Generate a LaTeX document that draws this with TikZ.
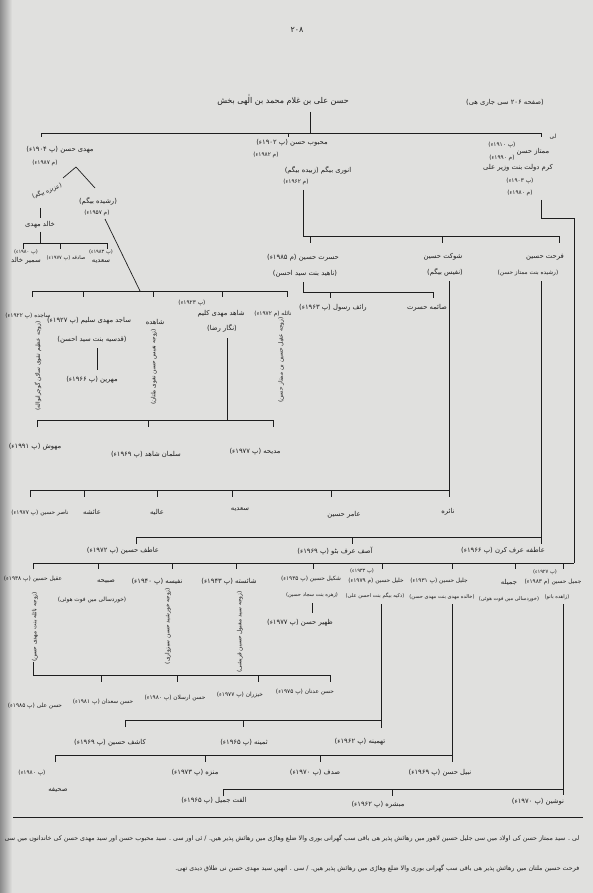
\documentclass[tikz,border=0pt]{standalone}
\usepackage{fontspec}
\newfontfamily\urdufont[Script=Arabic]{DejaVu Sans}
\TeXXeTstate=1
\newcommand{\urt}[1]{\beginR #1\endR}
\definecolor{paper}{RGB}{224,224,222}
\definecolor{ink}{RGB}{30,30,30}
\tikzset{
  lbl/.style={font=\urdufont\fontsize{6.8}{8}\selectfont, text=ink, inner sep=0.5pt},
  sm/.style={lbl, font=\urdufont\fontsize{5.8}{7}\selectfont},
  xs/.style={lbl, font=\urdufont\fontsize{5.1}{6}\selectfont},
  big/.style={lbl, font=\urdufont\fontsize{8}{9.5}\selectfont},
  note/.style={lbl, font=\urdufont\fontsize{6.3}{7.5}\selectfont},
  vert/.style={sm, rotate=90},
  link/.style={draw=ink, line width=0.7pt},
}
\begin{document}
\begin{tikzpicture}[x=1pt,y=-1pt]
% paper
\fill[paper] (0,0) rectangle (593,893);
\shade[left color=black!45, right color=paper] (0,0) rectangle (12,893);
\useasboundingbox (0,0) rectangle (593,893);

% ---------- heading ----------
\node[big] (page) at (297,30) {\urt{۲۰۸}};
\node[big] (root) at (283,100) {\urt{حسن علی بن غلام محمد بن الٰهی بخش}};
\node[lbl] (cont) at (505,103) {\urt{(صفحه ۲۰۶ سی جاری هی)}};
\coordinate (rootdrop) at (310,133);
\draw[link] (310,112) -- (rootdrop);
\draw[link] (41,137) -- (41,133) -- (541,133) -- (541,137);
\draw[link] (288,133) -- (288,137);

% ---------- Mahdi Hasan ----------
\node[lbl] (mahdi) at (60,150) {\urt{مهدی حسن (پ ۱۹۰۴ء)}};
\node[sm] (mahdiD) at (45,163) {\urt{(م ۱۹۸۷ء)}};
\coordinate (vtop) at (76,167);
\draw[link] (63,178) -- (vtop) -- (95,188);
\node[sm, rotate=22] (aziza) at (47,191) {\urt{(عزیزه بیگم)}};
\node[lbl] (rashida) at (98,201) {\urt{(رشیده بیگم)}};
\node[sm] (rashidaD) at (97,213) {\urt{(م ۱۹۵۷ء)}};

\draw[link] (40,208) -- (40,218);
\node[lbl] (khalid) at (40,225) {\urt{خالد مهدی}};
\draw[link] (40,232) -- (40,243);
\draw[link] (23,249) -- (23,243) -- (107,243) -- (107,249);
\draw[link] (60,243) -- (60,249);
\node[xs] (k1d) at (26,252) {\urt{(پ ۱۹۸۰ء)}};
\node[lbl] (k1) at (26,261) {\urt{سمیر خالد}};
\node[xs] (k2) at (66,258) {\urt{صادقه (پ ۱۹۷۷ء)}};
\node[xs] (k3d) at (101,252) {\urt{(پ ۱۹۸۳ء)}};
\node[lbl] (k3) at (101,262) {\urt{سعدیه}};

\draw[link] (105,219) -- (140,291);
\draw[link] (32,297) -- (32,291) -- (287,291) -- (287,297);
\foreach \x in {83,153,222} \draw[link] (\x,291) -- (\x,297);

\node[sm] (m1) at (28,316) {\urt{ساجده (پ ۱۹۲۲ء)}};
\node[vert] (m1w) at (38,366) {\urt{(زوجه عظیم تقوی ساکن گوجرانواله)}};
\node[lbl] (m2) at (89,321) {\urt{ساجد مهدی سلیم (پ ۱۹۲۷ء)}};
\node[lbl] (m2w) at (92,340) {\urt{(قدسیه بنت سید احسن)}};
\draw[link] (97,348) -- (97,370);
\node[lbl] (m2c) at (92,380) {\urt{مهرین (پ ۱۹۶۶ء)}};
\node[lbl] (m3) at (155,322) {\urt{شاهده}};
\node[vert] (m3w) at (154,367) {\urt{(زوجه نفیس حسن نقوی ملتان)}};
\node[sm] (m4d) at (192,303) {\urt{(پ ۱۹۲۳ء)}};
\node[lbl] (m4) at (221,314) {\urt{شاهد مهدی کلیم}};
\node[lbl] (m4w) at (222,328) {\urt{(نگار رضا)}};
\draw[link] (227,338) -- (227,420);
\node[sm] (m5) at (273,314) {\urt{نائله (م ۱۹۷۲ء)}};
\node[vert] (m5w) at (281,360) {\urt{(زوجه عقیل حسین بن ممتاز حسن)}};

\draw[link] (37,427) -- (37,420) -- (273,420) -- (273,427);
\draw[link] (148,420) -- (148,427);
\node[lbl] (s1) at (35,447) {\urt{مهوش (پ ۱۹۹۱ء)}};
\node[lbl] (s2) at (146,455) {\urt{سلمان شاهد (پ ۱۹۶۹ء)}};
\node[lbl] (s3) at (255,452) {\urt{مدیحه (پ ۱۹۷۷ء)}};

% ---------- Mahboob Hasan ----------
\node[lbl] (mahboob) at (292,143) {\urt{محبوب حسن (پ ۱۹۰۲ء)}};
\node[sm] (mahboobD) at (266,155) {\urt{(م ۱۹۸۲ء)}};
\node[lbl] (anwari) at (318,170) {\urt{انوری بیگم (زبیده بیگم)}};
\node[sm] (anwariD) at (296,182) {\urt{(م ۱۹۶۲ء)}};
\draw[link] (303,190) -- (303,236) -- (559,236) -- (559,243);
\draw[link] (310,236) -- (310,243);
\draw[link] (442,236) -- (442,243);

\node[lbl] (hasrat) at (303,258) {\urt{حسرت حسین (م ۱۹۸۵ء)}};
\node[lbl] (hasratW) at (305,274) {\urt{(ناهید بنت سید احسن)}};
\draw[link] (303,282) -- (303,292) -- (433,292) -- (433,298);
\draw[link] (330,292) -- (330,298);
\node[lbl] (h1) at (333,308) {\urt{رائف رسول (پ ۱۹۶۳ء)}};
\node[lbl] (h2) at (427,308) {\urt{صائمه حسرت}};

\node[lbl] (shaukat) at (443,257) {\urt{شوکت حسین}};
\node[lbl] (shaukatW) at (445,272) {\urt{(نفیس بیگم)}};
\draw[link] (449,281) -- (449,497);
\draw[link] (30,497) -- (30,490) -- (449,490);
\foreach \x in {84,157,232,331} \draw[link] (\x,490) -- (\x,497);
\node[sm] (n1) at (40,513) {\urt{ناصر حسین (پ ۱۹۷۷ء)}};
\node[lbl] (n2) at (92,512) {\urt{عائشه}};
\node[lbl] (n3) at (157,512) {\urt{عالیه}};
\node[lbl] (n4) at (240,510) {\urt{سعدیه}};
\node[lbl] (n5) at (344,515) {\urt{عامر حسین}};
\node[lbl] (n6) at (448,512) {\urt{نائره}};

\node[lbl] (farhat) at (545,257) {\urt{فرحت حسین}};
\node[sm] (farhatW) at (528,273) {\urt{(رشیده بنت ممتاز حسن)}};
\draw[link] (541,281) -- (541,544);
\draw[link] (136,544) -- (136,537) -- (541,537);
\draw[link] (352,537) -- (352,544);
\node[lbl] (f1) at (123,551) {\urt{عاطف حسین (پ ۱۹۷۲ء)}};
\node[lbl] (f2) at (335,551) {\urt{آصف عرف بٹو (پ ۱۹۶۹ء)}};
\node[lbl] (f3) at (503,551) {\urt{عاطفه عرف کرن (پ ۱۹۶۶ء)}};

% ---------- Mumtaz Hasan ----------
\node[sm] (mark1) at (553,137) {\urt{لی}};
\node[lbl] (mumtaz) at (533,152) {\urt{ممتاز حسن}};
\node[sm] (mumtazB) at (502,145) {\urt{(پ ۱۹۱۰ء)}};
\node[sm] (mumtazD) at (502,158) {\urt{(م ۱۹۹۰ء)}};
\node[lbl] (karam) at (518,168) {\urt{کرم دولت بنت وزیر علی}};
\node[sm] (karamB) at (520,181) {\urt{(پ ۱۹۰۳ء)}};
\node[sm] (karamD) at (520,193) {\urt{(م ۱۹۸۰ء)}};
\draw[link] (541,200) -- (541,218) -- (574,218) -- (574,563);
\draw[link] (33,569) -- (33,563) -- (574,563);
\foreach \x in {98,172,236,313,382,452,515,563} \draw[link] (\x,563) -- (\x,569);

\node[sm] (c1) at (33,579) {\urt{عقیل حسین (پ ۱۹۳۸ء)}};
\node[vert] (c1w) at (35,627) {\urt{(زوجه نائله بنت مهدی حسن)}};
\node[lbl] (c2) at (106,582) {\urt{صبیحه}};
\node[sm] (c2n) at (92,600) {\urt{(خوردسالی میں فوت هوئی)}};
\node[lbl] (c3) at (157,582) {\urt{نفیسه (پ ۱۹۴۰ء)}};
\node[vert] (c3w) at (168,626) {\urt{(زوجه خورشید حسن سبزواری)}};
\node[lbl] (c4) at (229,582) {\urt{شائسته (پ ۱۹۴۳ء)}};
\node[vert] (c4w) at (240,632) {\urt{(زوجه سید مقبول حسین قریشی)}};
\node[sm] (c5) at (311,579) {\urt{شکیل حسین (پ ۱۹۳۵ء)}};
\node[xs] (c5w) at (312,595) {\urt{(زهره بنت سجاد حسین)}};
\draw[link] (312,603) -- (312,613);
\node[lbl] (c5c) at (300,623) {\urt{ظهیر حسن (پ ۱۹۷۷ء)}};
\node[xs] (c6b) at (362,571) {\urt{(پ ۱۹۳۳ء)}};
\node[sm] (c6) at (376,581) {\urt{خلیل حسین (م ۱۹۷۹ء)}};
\node[xs] (c6w) at (375,596) {\urt{(ذکیه بیگم بنت احسن علی)}};
\node[sm] (c7) at (439,581) {\urt{جلیل حسین (پ ۱۹۳۱ء)}};
\node[xs] (c7w) at (442,597) {\urt{(خالده مهدی بنت مهدی حسن)}};
\node[lbl] (c8) at (509,582) {\urt{جمیله}};
\node[xs] (c8n) at (509,599) {\urt{(خوردسالی میں فوت هوئی)}};
\node[xs] (c9b) at (545,572) {\urt{(پ ۱۹۲۷ء)}};
\node[sm] (c9) at (553,582) {\urt{جمیل حسین (م ۱۹۸۳ء)}};
\node[xs] (c9w) at (557,597) {\urt{(زاهده بانو)}};

% Aqeel's children
\draw[link] (33,662) -- (33,675) -- (330,675) -- (330,682);
\foreach \x in {101,177,258} \draw[link] (\x,675) -- (\x,682);
\node[sm] (a1) at (35,706) {\urt{حسن علی (پ ۱۹۸۵ء)}};
\node[sm] (a2) at (103,702) {\urt{حسن سعدان (پ ۱۹۸۱ء)}};
\node[sm] (a3) at (175,698) {\urt{حسن ارسلان (پ ۱۹۸۰ء)}};
\node[sm] (a4) at (240,695) {\urt{خیزران (پ ۱۹۷۷ء)}};
\node[sm] (a5) at (305,692) {\urt{حسن عدنان (پ ۱۹۷۵ء)}};

% Khalil's children
\draw[link] (381,604) -- (381,728);
\draw[link] (125,727) -- (125,720) -- (381,720);
\draw[link] (243,720) -- (243,727);
\node[lbl] (k6a) at (110,743) {\urt{کاشف حسین (پ ۱۹۶۹ء)}};
\node[lbl] (k6b) at (244,743) {\urt{ثمینه (پ ۱۹۶۵ء)}};
\node[lbl] (k6c) at (360,742) {\urt{تهمینه (پ ۱۹۶۲ء)}};

% Jalil's children
\draw[link] (452,604) -- (452,762);
\draw[link] (55,762) -- (55,755) -- (452,755);
\foreach \x in {205,320} \draw[link] (\x,755) -- (\x,762);
\node[sm] (j1d) at (32,773) {\urt{(پ ۱۹۸۰ء)}};
\node[lbl] (j1) at (58,790) {\urt{صحیفه}};
\node[lbl] (j2) at (195,773) {\urt{منزه (پ ۱۹۷۳ء)}};
\node[lbl] (j3) at (315,773) {\urt{صدف (پ ۱۹۷۰ء)}};
\node[lbl] (j4) at (440,773) {\urt{نبیل حسن (پ ۱۹۶۹ء)}};

% Jamil's children
\draw[link] (563,604) -- (563,795);
\draw[link] (223,796) -- (223,789) -- (563,789);
\draw[link] (392,789) -- (392,796);
\node[lbl] (q1) at (214,801) {\urt{الفت جمیل (پ ۱۹۶۵ء)}};
\node[lbl] (q2) at (378,805) {\urt{مبشره (پ ۱۹۶۲ء)}};
\node[lbl] (q3) at (538,802) {\urt{نوشین (پ ۱۹۷۰ء)}};

% ---------- footnotes ----------
\draw[link] (13,817) -- (583,817);
\node[note, anchor=east] (fn1) at (580,838) {\urt{لی . سید ممتاز حسن کی اولاد میں سی جلیل حسین لاهور میں رهائش پذیر هی باقی سب گھرانی بوری والا ضلع وهاڑی میں رهائش پذیر هیں. / ئی اور سی . سید محبوب حسن اور سید مهدی حسن کی خاندانوں میں سی}};
\node[note, anchor=east] (fn2) at (580,868) {\urt{فرحت حسین ملتان میں رهائش پذیر هی باقی سب گھرانی بوری والا ضلع وهاڑی میں رهائش پذیر هیں. / سی . انهیں سید مهدی حسن نی طلاق دیدی تھی.}};
\end{tikzpicture}
\end{document}
